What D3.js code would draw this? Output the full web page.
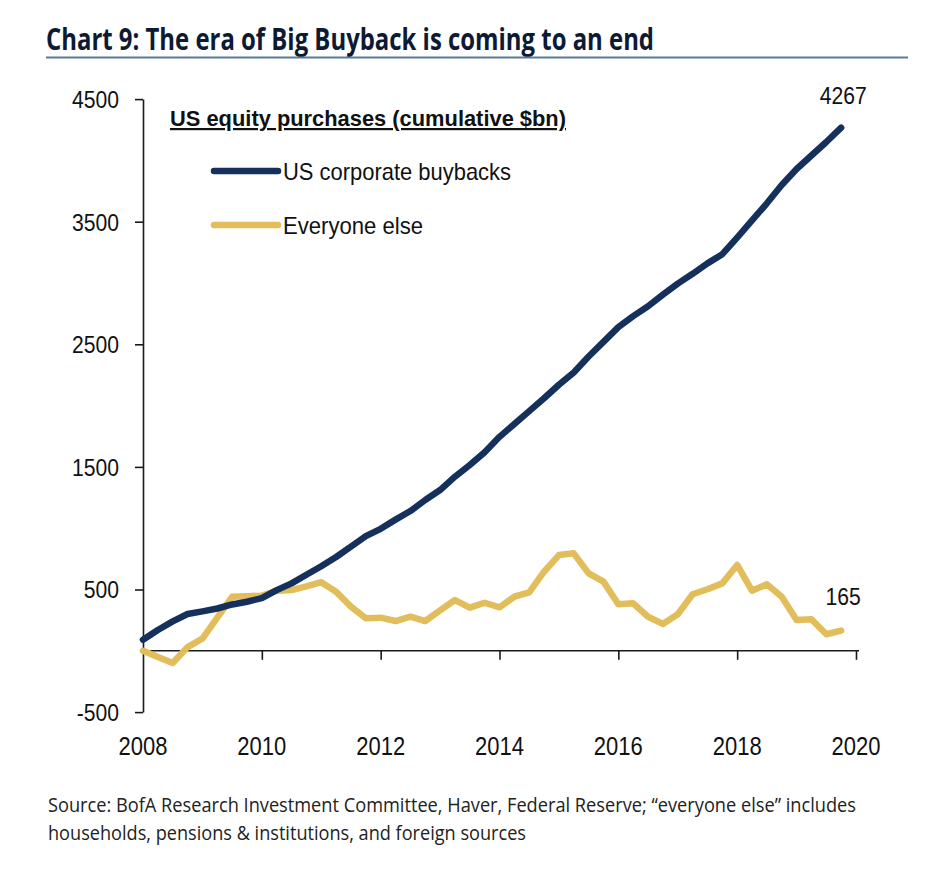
<!DOCTYPE html>
<html>
<head>
<meta charset="utf-8">
<script src="https://cdn.jsdelivr.net/npm/d3@7"></script>
<style>
  html, body { margin: 0; padding: 0; background: #fff; }
  svg { display: block; }
</style>
</head>
<body>
<svg id="chart" width="944" height="870"></svg>
<script>
// ---- DATA (quarterly, cumulative $bn) ----
const quarters = [
  2008.00, 2008.25, 2008.50, 2008.75,
  2009.00, 2009.25, 2009.50, 2009.75,
  2010.00, 2010.25, 2010.50, 2010.75,
  2011.00, 2011.25, 2011.50, 2011.75,
  2012.00, 2012.25, 2012.50, 2012.75,
  2013.00, 2013.25, 2013.50, 2013.75,
  2014.00, 2014.25, 2014.50, 2014.75,
  2015.00, 2015.25, 2015.50, 2015.75,
  2016.00, 2016.25, 2016.50, 2016.75,
  2017.00, 2017.25, 2017.50, 2017.75,
  2018.00, 2018.25, 2018.50, 2018.75,
  2019.00, 2019.25, 2019.50, 2019.75
];
const buybacks = [
  90, 170, 240, 300,
  322, 345, 378, 400,
  430, 495, 550, 620,
  690, 765, 850, 935,
  995, 1070, 1140, 1230,
  1311, 1420, 1516, 1620,
  1745, 1850, 1955, 2060,
  2170, 2270, 2400, 2520,
  2640, 2730, 2810, 2905,
  2995, 3075, 3160, 3235,
  3370, 3510, 3650, 3800,
  3930, 4040, 4150, 4267
];
const everyoneElse = [
  0, -50, -100, 30,
  100, 270, 440, 445,
  450, 490, 495, 525,
  560, 482, 360, 265,
  270, 243, 278, 243,
  330, 414, 352, 392,
  355, 441, 477, 645,
  781, 795, 632, 564,
  379, 387, 278, 219,
  298, 461, 502, 550,
  700, 490, 542, 441,
  251, 257, 135, 165
];
const yTicks = [-500, 500, 1500, 2500, 3500, 4500];
const xTicks = [2008, 2010, 2012, 2014, 2016, 2018, 2020];
const seriesNames = ["US corporate buybacks", "Everyone else"];
const endLabels = ["4267", "165"];
const titleText = "Chart 9: The era of Big Buyback is coming to an end";
const legendTitle = "US equity purchases (cumulative $bn)";
const sourceLines = [
  "Source: BofA Research Investment Committee, Haver, Federal Reserve; \u201Ceveryone else\u201D includes",
  "households, pensions & institutions, and foreign sources"
];

// ---- STYLE ----
const NAVY = "#14305b";
const GOLD = "#e2bd5b";
const AXIS = "#1a1a1a";
const sansFont = "'Liberation Sans', Arial, sans-serif";
const titleFont = "'Open Sans', 'Noto Sans', sans-serif";

const svg = d3.select("#chart");

function fit(sel, width) {
  sel.each(function() {
    this.setAttribute("textLength", width);
    this.setAttribute("lengthAdjust", "spacingAndGlyphs");
  });
  return sel;
}
function squeeze(sel, k) {
  sel.each(function() {
    const w = this.getComputedTextLength();
    this.setAttribute("textLength", w * k);
    this.setAttribute("lengthAdjust", "spacingAndGlyphs");
  });
  return sel;
}

// Title
const t = svg.append("text")
  .attr("x", 46).attr("y", 50)
  .attr("font-family", titleFont).attr("font-weight", 700)
  .attr("font-size", 30).attr("fill", "#0c1a34")
  .text(titleText);
fit(t, 608);
svg.append("line")
  .attr("x1", 46).attr("x2", 908).attr("y1", 57.5).attr("y2", 57.5)
  .attr("stroke", "#5d7a95").attr("stroke-width", 2);

// Scales
const x = d3.scaleLinear().domain([2008, 2020]).range([143, 856]);
const y = d3.scaleLinear().domain([-500, 4500]).range([712.1, 99.1]);

// Y axis
const yAxis = d3.axisLeft(y).tickValues(yTicks).tickSize(8).tickSizeOuter(0).tickPadding(16)
  .tickFormat(d => String(d));
const gy = svg.append("g").attr("transform", `translate(${x(2008)},0)`).call(yAxis);
gy.select(".domain").attr("stroke", AXIS).attr("stroke-width", 1.6);
gy.selectAll(".tick line").attr("stroke", AXIS).attr("stroke-width", 1.6);
gy.selectAll(".tick text")
  .attr("font-family", sansFont).attr("font-size", 24).attr("fill", "#111")
  .attr("dy", "0.35em");
squeeze(gy.selectAll(".tick text"), 0.88);

// X axis (zero line)
const xAxis = d3.axisBottom(x).tickValues(xTicks.filter(d => d > 2008)).tickSize(9).tickSizeOuter(0)
  .tickFormat("");
const gx = svg.append("g").attr("transform", `translate(0,${y(0)})`).call(xAxis);
gx.select(".domain").attr("stroke", AXIS).attr("stroke-width", 1.6)
  .attr("d", `M${x(2008)},0H${x(2020) + 3}`);
gx.selectAll(".tick line").attr("stroke", AXIS).attr("stroke-width", 1.6);

// X tick labels at bottom
const xl = svg.append("g").selectAll("text").data(xTicks).join("text")
  .attr("x", d => x(d)).attr("y", 755)
  .attr("text-anchor", "middle")
  .attr("font-family", sansFont).attr("font-size", 25).attr("fill", "#111")
  .text(d => d);
squeeze(xl, 0.88);

// Lines
const line = d3.line().x((d, i) => x(quarters[i])).y(d => y(d));
svg.append("path").datum(everyoneElse)
  .attr("d", line).attr("fill", "none").attr("stroke", GOLD)
  .attr("stroke-width", 6.5).attr("stroke-linejoin", "round").attr("stroke-linecap", "round");
svg.append("path").datum(buybacks)
  .attr("d", line).attr("fill", "none").attr("stroke", NAVY)
  .attr("stroke-width", 6.5).attr("stroke-linejoin", "round").attr("stroke-linecap", "round");

// End labels
const endData = [
  { x: quarters[quarters.length - 1], v: buybacks[buybacks.length - 1], label: endLabels[0], dy: -24 },
  { x: quarters[quarters.length - 1], v: everyoneElse[everyoneElse.length - 1], label: endLabels[1], dy: -26 }
];
const el = svg.append("g").selectAll("text").data(endData).join("text")
  .attr("x", d => x(d.x) + 2).attr("y", d => y(d.v) + d.dy)
  .attr("text-anchor", "middle")
  .attr("font-family", sansFont).attr("font-size", 24).attr("fill", "#111")
  .text(d => d.label);
squeeze(el, 0.88);

// Legend
const lt = svg.append("text")
  .attr("x", 170).attr("y", 126)
  .attr("font-family", sansFont).attr("font-weight", 700)
  .attr("font-size", 22).attr("fill", "#111")
  .attr("text-decoration", "underline")
  .text(legendTitle);
fit(lt, 396);

const legendRows = [
  { name: seriesNames[0], color: NAVY, y: 171, w: 228 },
  { name: seriesNames[1], color: GOLD, y: 225, w: 140 }
];
const lg = svg.append("g").selectAll("g").data(legendRows).join("g");
lg.append("line")
  .attr("x1", 214).attr("x2", 278)
  .attr("y1", d => d.y).attr("y2", d => d.y)
  .attr("stroke", d => d.color).attr("stroke-width", 6.5).attr("stroke-linecap", "round");
lg.append("text")
  .attr("x", 283).attr("y", d => d.y + 8.5)
  .attr("font-family", sansFont).attr("font-size", 24).attr("fill", "#111")
  .text(d => d.name)
  .each(function(d) { this.setAttribute("textLength", d.w); this.setAttribute("lengthAdjust", "spacingAndGlyphs"); });

// Source
const src = svg.append("g").selectAll("text").data(sourceLines).join("text")
  .attr("x", 48).attr("y", (d, i) => 812 + i * 28)
  .attr("font-family", titleFont).attr("font-size", 20).attr("fill", "#222")
  .text(d => d);
fit(d3.select(src.nodes()[0]), 808);
fit(d3.select(src.nodes()[1]), 478);
</script>
</body>
</html>
